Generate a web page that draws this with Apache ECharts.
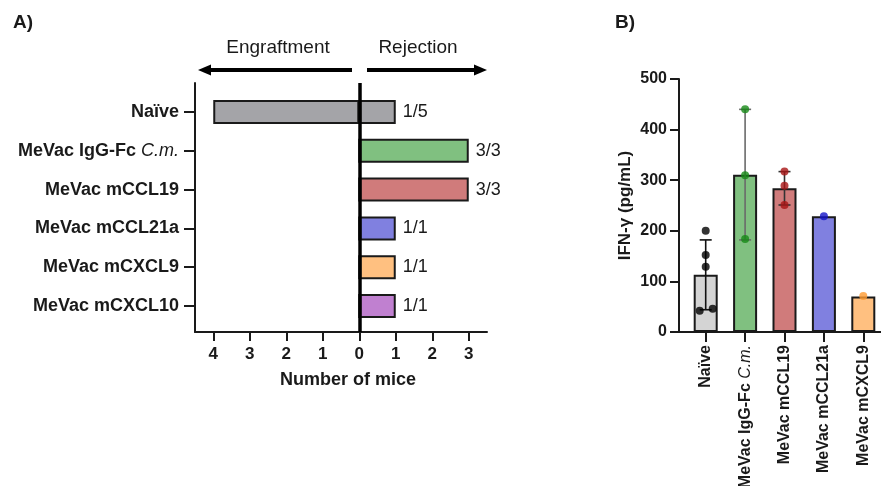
<!DOCTYPE html>
<html>
<head>
<meta charset="utf-8">
<script src="https://cdn.jsdelivr.net/npm/echarts@6/dist/echarts.min.js"></script>
<style>html,body{margin:0;padding:0;background:#fff}#c{width:881px;height:486px}</style>
</head>
<body>
<div id="c"></div>
<script>
// ---------- DATA ----------
const catsA = ['Naïve', 'MeVac IgG-Fc C.m.', 'MeVac mCCL19', 'MeVac mCCL21a', 'MeVac mCXCL9', 'MeVac mCXCL10'];
const engraftment = [4, 0, 0, 0, 0, 0];
const rejection = [1, 3, 3, 1, 1, 1];
const xTicksA = [-4, -3, -2, -1, 0, 1, 2, 3];

const catsB = ['Naïve', 'MeVac IgG-Fc C.m.', 'MeVac mCCL19', 'MeVac mCCL21a', 'MeVac mCXCL9'];
const meanB = [113, 311, 284, 229, 70];
const sdB = [69, 129, 33, 0, 0];
const pointsB = [[200, 152, 129, 46, 42], [440, 310, 184], [317, 289, 251], [229], [71]];
const yTicksB = [0, 100, 200, 300, 400, 500];

// ---------- STYLE ----------
const FONT = "'Liberation Sans', Arial, Helvetica, sans-serif";
const INK = '#1a1a1a';
const fillA = ['#a4a4a8', '#80c080', '#d07b7b', '#8080e0', '#ffc080', '#c080d0'];
const fillB = ['#d4d4d4', '#80c080', '#d07b7b', '#8080e0', '#ffc080'];
const pointColors = ['#000000', '#168a16', '#a81414', '#1414c8', '#ff9a30'];
const errColors = ['#111111', '#6a6a6a', '#333333', '#333333', '#333333'];
const jitterB = [[0, 0, 0, 7, -6], [0, 0, 0], [0, 0, 0], [0], [0]];

function catLabel(v) {
  if (v.indexOf('C.m.') >= 0) return '{b|' + v.replace('C.m.', '').trimEnd() + ' }{i|C.m.}';
  return '{b|' + v + '}';
}

const chart = echarts.init(document.getElementById('c'), null, {renderer: 'canvas'});

const scatterData = [];
pointsB.forEach((arr, i) => arr.forEach((p, j) => {
  scatterData.push({value: [i, p], itemStyle: {color: pointColors[i]}, symbolOffset: [jitterB[i][j], 0]});
}));

const G = {outerBoundsMode: 'none', containLabel: false};

const option = {
  animation: false,
  backgroundColor: '#fff',
  textStyle: {fontFamily: FONT},
  grid: [
    Object.assign({left: 195, top: 83, width: 292, height: 249}, G),          // A axes frame
    Object.assign({left: 195, top: 92.6, width: 292, height: 232.8}, G),      // A bars
    Object.assign({left: 679, top: 79, width: 202, height: 253}, G),          // B axes frame
    Object.assign({left: 686, top: 79, width: 197, height: 253}, G)           // B bars
  ],
  xAxis: [
    {
      gridIndex: 0, type: 'value', min: -4.5, max: 3.5,
      axisLine: {show: true, onZero: false, lineStyle: {color: INK, width: 2}},
      axisTick: {show: true, length: 9, lineStyle: {color: INK, width: 2}, customValues: xTicksA},
      axisLabel: {show: true, customValues: xTicksA, formatter: v => String(Math.abs(v)),
        fontFamily: FONT, fontWeight: 'bold', fontSize: 17, color: INK, margin: 14},
      splitLine: {show: false},
      name: 'Number of mice', nameLocation: 'middle', nameGap: 39,
      nameTextStyle: {fontFamily: FONT, fontWeight: 'bold', fontSize: 18, color: INK, padding: [0, 0, 0, 14]}
    },
    {gridIndex: 1, type: 'value', min: -4.5, max: 3.5, show: false},
    {
      gridIndex: 2, type: 'value', min: 0, max: 1,
      axisLine: {show: true, onZero: false, lineStyle: {color: INK, width: 2}},
      axisTick: {show: false}, axisLabel: {show: false}, splitLine: {show: false}
    },
    {
      gridIndex: 3, type: 'category', data: catsB,
      axisLine: {show: false, onZero: false},
      axisTick: {show: true, alignWithLabel: true, length: 10, lineStyle: {color: INK, width: 2}},
      axisLabel: {rotate: 90, margin: 13, formatter: catLabel,
        rich: {
          b: {fontFamily: FONT, fontWeight: 'bold', fontSize: 16, color: INK},
          i: {fontFamily: FONT, fontStyle: 'italic', fontWeight: 'normal', fontSize: 16, color: INK}
        }}
    }
  ],
  yAxis: [
    {
      gridIndex: 0, type: 'value', min: 0, max: 1,
      axisLine: {show: true, onZero: false, lineStyle: {color: INK, width: 2}},
      axisTick: {show: false}, axisLabel: {show: false}, splitLine: {show: false}
    },
    {
      gridIndex: 1, type: 'category', data: catsA, inverse: true,
      axisLine: {show: false, onZero: false},
      axisTick: {show: true, alignWithLabel: true, length: 11, lineStyle: {color: INK, width: 2}},
      axisLabel: {margin: 16, formatter: catLabel,
        rich: {
          b: {fontFamily: FONT, fontWeight: 'bold', fontSize: 18, color: INK},
          i: {fontFamily: FONT, fontStyle: 'italic', fontWeight: 'normal', fontSize: 18, color: INK}
        }}
    },
    {
      gridIndex: 2, type: 'value', min: 0, max: 500, interval: 100,
      axisLine: {show: true, onZero: false, lineStyle: {color: INK, width: 2}},
      axisTick: {show: true, length: 9, lineStyle: {color: INK, width: 2}},
      axisLabel: {fontFamily: FONT, fontWeight: 'bold', fontSize: 16, color: INK, margin: 12},
      splitLine: {show: false},
      name: 'IFN-γ (pg/mL)', nameLocation: 'middle', nameGap: 45,
      nameTextStyle: {fontFamily: FONT, fontWeight: 'bold', fontSize: 17, color: INK}
    },
    {gridIndex: 3, type: 'value', min: 0, max: 500, interval: 100, show: false}
  ],
  series: [
    {
      type: 'bar', name: 'Engraftment', xAxisIndex: 1, yAxisIndex: 1, stack: 'mice',
      barWidth: 24,
      data: engraftment.map((v, i) => ({value: -v, itemStyle: {color: fillA[i]}})),
      itemStyle: {borderColor: INK, borderWidth: 2}
    },
    {
      type: 'bar', name: 'Rejection', xAxisIndex: 1, yAxisIndex: 1, stack: 'mice',
      barWidth: 24,
      data: rejection.map((v, i) => ({value: v, itemStyle: {color: fillA[i]}})),
      itemStyle: {borderColor: INK, borderWidth: 2},
      label: {
        show: true, position: 'right', distance: 7,
        formatter: p => rejection[p.dataIndex] + '/' + (rejection[p.dataIndex] + engraftment[p.dataIndex]),
        fontFamily: FONT, fontSize: 18, color: INK
      }
    },
    {
      type: 'line', xAxisIndex: 0, yAxisIndex: 0, data: [], z: 10,
      markLine: {
        silent: true, symbol: ['none', 'none'], label: {show: false},
        lineStyle: {color: '#000', width: 3.5, type: 'solid'},
        data: [{xAxis: 0}]
      }
    },
    {
      type: 'bar', xAxisIndex: 3, yAxisIndex: 3, barWidth: 24,
      data: meanB.map((v, i) => ({value: v, itemStyle: {color: fillB[i]}})),
      itemStyle: {borderColor: INK, borderWidth: 2}
    },
    {
      type: 'custom', xAxisIndex: 3, yAxisIndex: 3, z: 5,
      data: meanB.map((m, i) => [i, m, sdB[i]]),
      renderItem: function (params, api) {
        const i = api.value(0), m = api.value(1), s = api.value(2);
        if (!s) return null;
        const top = api.coord([i, m + s]);
        const bot = api.coord([i, m - s]);
        const hw = 6;
        const st = {stroke: errColors[i], lineWidth: 1.6};
        return {
          type: 'group',
          children: [
            {type: 'line', shape: {x1: top[0], y1: top[1], x2: bot[0], y2: bot[1]}, style: st},
            {type: 'line', shape: {x1: top[0] - hw, y1: top[1], x2: top[0] + hw, y2: top[1]}, style: st},
            {type: 'line', shape: {x1: bot[0] - hw, y1: bot[1], x2: bot[0] + hw, y2: bot[1]}, style: st}
          ]
        };
      }
    },
    {
      type: 'scatter', xAxisIndex: 3, yAxisIndex: 3, z: 6,
      symbol: 'circle', symbolSize: 8,
      data: scatterData
    }
  ],
  graphic: [
    {type: 'text', left: 13, top: 13, style: {text: 'A)', font: 'bold 19px ' + FONT, fill: INK}},
    {type: 'text', left: 615, top: 13, style: {text: 'B)', font: 'bold 19px ' + FONT, fill: INK}},
    {type: 'text', x: 278, y: 48, style: {text: 'Engraftment', font: '19px ' + FONT, fill: INK, align: 'center', verticalAlign: 'middle'}},
    {type: 'text', x: 418, y: 48, style: {text: 'Rejection', font: '19px ' + FONT, fill: INK, align: 'center', verticalAlign: 'middle'}},
    {type: 'line', shape: {x1: 352, y1: 70, x2: 208, y2: 70}, style: {stroke: '#000', lineWidth: 4}},
    {type: 'polygon', shape: {points: [[198, 70], [211, 64.5], [211, 75.5]]}, style: {fill: '#000'}},
    {type: 'line', shape: {x1: 367, y1: 70, x2: 477, y2: 70}, style: {stroke: '#000', lineWidth: 4}},
    {type: 'polygon', shape: {points: [[487, 70], [474, 64.5], [474, 75.5]]}, style: {fill: '#000'}}
  ]
};
chart.setOption(option);
</script>
</body>
</html>
